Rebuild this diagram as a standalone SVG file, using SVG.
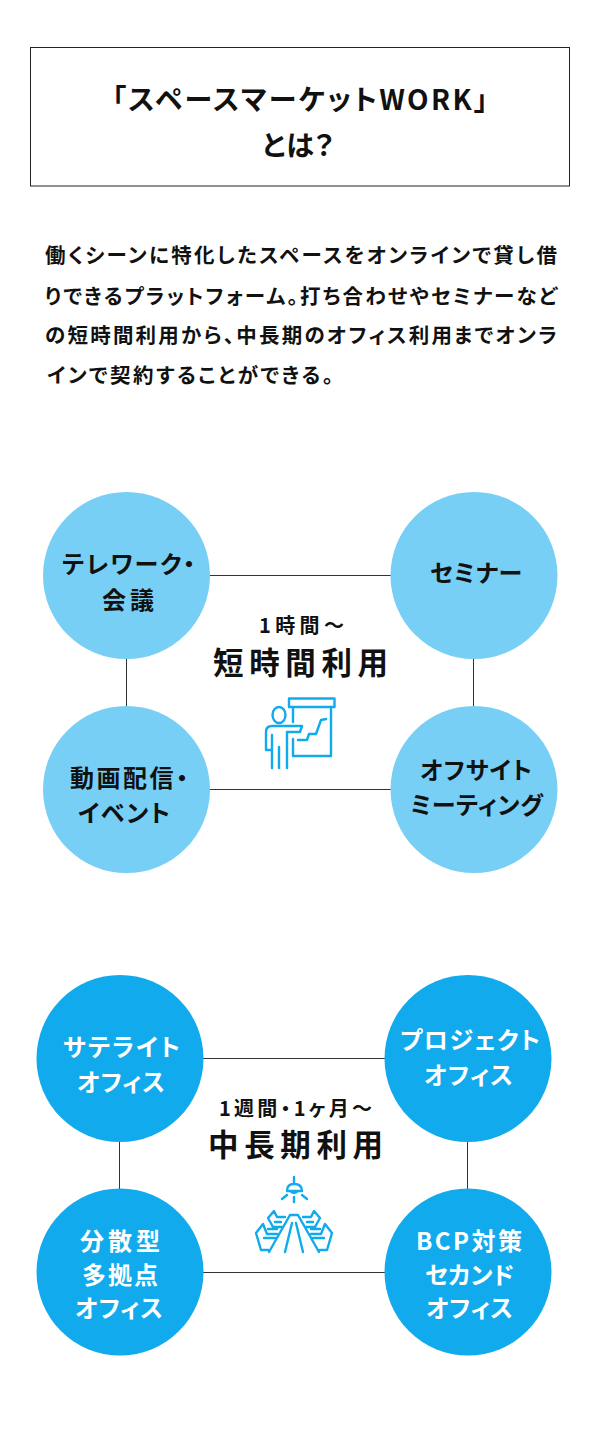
<svg xmlns="http://www.w3.org/2000/svg" width="600" height="1433" viewBox="0 0 600 1433">
<style>
text{font-family:"Noto Sans CJK JP","Noto Sans",sans-serif;font-weight:700;fill:#111;text-anchor:middle;font-feature-settings:"palt"}
.body{font-size:20.500px;text-anchor:start}
.title{font-size:28px}
.lab{font-size:24px}
.lw{fill:#fff}
.sub{font-size:20px}
.big{font-size:30.500px}
.c1{fill:#77cff6}.c2{fill:#11abed}
.ln{stroke:#333;stroke-width:1;fill:none}
.ic{fill:none;stroke:#11abed;stroke-width:2.400;stroke-linecap:round;stroke-linejoin:round}
</style>
<rect width="600" height="1433" fill="#fff"/>
<g id="title"><rect x="30.500" y="47.500" width="539" height="138.500" fill="#fff" stroke="#222" stroke-width="1"/>
<text class="title" x="300" y="110" textLength="376" lengthAdjust="spacing">「スペースマーケットWORK」</text><text class="title" x="298" y="156" textLength="72" lengthAdjust="spacing">とは？</text></g>
<g id="description">
<text class="body" x="45" y="263" textLength="512" lengthAdjust="spacing">働くシーンに特化したスペースをオンラインで貸し借</text>
<text class="body" x="45" y="304" textLength="512" lengthAdjust="spacing">りできるプラットフォーム。打ち合わせやセミナーなど</text>
<text class="body" x="45" y="343" textLength="512" lengthAdjust="spacing">の短時間利用から、中長期のオフィス利用までオンラ</text>
<text class="body" x="47" y="383" textLength="286" lengthAdjust="spacing">インで契約することができる。</text></g>
<g id="connectors">
<path class="ln" d="M210 575.500H391M126.500 659V706M473.500 659V706M210 789.500H391"/>
<path class="ln" d="M203 1058.500H385M119.500 1141V1189M467.500 1141V1189M203 1272.500H385"/></g>
<g id="n1"><circle class="c1" cx="126.500" cy="575.500" r="83.500"/><text class="lab" x="128.500" y="573" textLength="133" lengthAdjust="spacing">テレワーク・</text><text class="lab" x="128" y="609" textLength="52" lengthAdjust="spacing">会議</text></g>
<g id="n2"><circle class="c1" cx="474" cy="575.500" r="83.500"/><text class="lab" x="476" y="582" textLength="92" lengthAdjust="spacing">セミナー</text></g>
<g id="n3"><circle class="c1" cx="126.500" cy="789.500" r="83.500"/><text class="lab" x="129" y="787" textLength="118" lengthAdjust="spacing">動画配信・</text><text class="lab" x="124" y="822" textLength="92" lengthAdjust="spacing">イベント</text></g>
<g id="n4"><circle class="c1" cx="474" cy="789.500" r="83.500"/><text class="lab" x="476" y="779" textLength="112" lengthAdjust="spacing">オフサイト</text><text class="lab" x="476.500" y="814" textLength="133" lengthAdjust="spacing">ミーティング</text></g>
<g id="short"><text class="sub" x="301.500" y="633" textLength="85" lengthAdjust="spacing">1時間～</text><text class="big" x="300.500" y="674" textLength="175" lengthAdjust="spacing">短時間利用</text>
<g class="ic"><path d="M289 698.500H334.500V707H289ZM293 707V722M293 739V756H331V707"/><ellipse cx="279" cy="715" rx="6.500" ry="8"/>
<path d="M272 768V735M272 750H266V732Q266 726 272 726H302L300 732H287V768M279 768V747M298 740H307L309 734H316L321 720L326 719"/></g></g>
<g id="n5"><circle class="c2" cx="120" cy="1058.500" r="83.500"/><text class="lab lw" x="121.500" y="1056" textLength="117" lengthAdjust="spacing">サテライト</text><text class="lab lw" x="121" y="1091" textLength="88" lengthAdjust="spacing">オフィス</text></g>
<g id="n6"><circle class="c2" cx="468" cy="1058.500" r="83.500"/><text class="lab lw" x="470" y="1049" textLength="140" lengthAdjust="spacing">プロジェクト</text><text class="lab lw" x="468.500" y="1084" textLength="89" lengthAdjust="spacing">オフィス</text></g>
<g id="n7"><circle class="c2" cx="120" cy="1272" r="83.500"/><text class="lab lw" x="120" y="1250" textLength="80" lengthAdjust="spacing">分散型</text><text class="lab lw" x="120" y="1284" textLength="76" lengthAdjust="spacing">多拠点</text><text class="lab lw" x="119" y="1317" textLength="88" lengthAdjust="spacing">オフィス</text></g>
<g id="n8"><circle class="c2" cx="468" cy="1272" r="83.500"/><text class="lab lw" x="469" y="1250" textLength="106" lengthAdjust="spacing">BCP対策</text><text class="lab lw" x="469.500" y="1284" textLength="89" lengthAdjust="spacing">セカンド</text><text class="lab lw" x="469.500" y="1317" textLength="87" lengthAdjust="spacing">オフィス</text></g>
<g id="long"><text class="sub" x="295.500" y="1116" textLength="153" lengthAdjust="spacing">1週間・1ヶ月～</text><text class="big" x="295.500" y="1156" textLength="175" lengthAdjust="spacing">中長期利用</text>
<g class="ic"><path d="M294 1177V1184M287 1191Q287 1184 294 1184Q302 1184 302 1191ZM290 1191Q294 1195 298 1191M282 1199L287 1195M294 1197V1202M307 1199L302 1195"/>
<path d="M269 1252L290 1215H298L319 1252M285 1252L292 1223M303 1252L296 1223"/>
<path id="chairs" d="M285 1217H277L274 1211L268 1218L273 1227H282M275 1222H281M277 1234H267L263 1224L256 1233L261 1250H268M264 1238H275M268 1229H277"/>
<path d="M303 1217H311L314 1211L320 1218L315 1227H306M313 1222H307M311 1234H321L325 1224L332 1233L327 1250H320M324 1238H313M320 1229H311"/></g></g>
</svg>
